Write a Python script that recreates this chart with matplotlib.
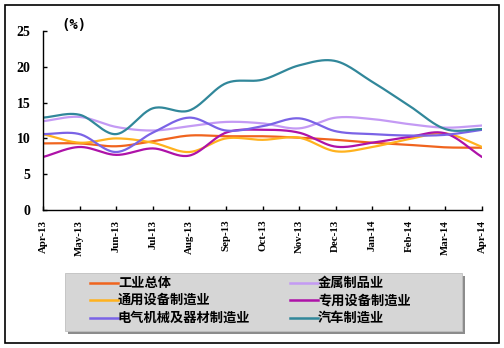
import numpy as np
import matplotlib
matplotlib.use("Agg")
import matplotlib.pyplot as plt
from matplotlib.patches import Rectangle
from matplotlib.lines import Line2D

plt.rcParams['font.family'] = ['Noto Sans CJK SC', 'DejaVu Sans']

months = ["Apr-13", "May-13", "Jun-13", "Jul-13", "Aug-13", "Sep-13", "Oct-13",
          "Nov-13", "Dec-13", "Jan-14", "Feb-14", "Mar-14", "Apr-14"]

industry_total = [9.3, 9.3, 8.9, 9.6, 10.4, 10.3, 10.3, 10.1, 9.8, 9.4, 9.1, 8.75, 8.7]
metal_products = [12.4, 13.0, 11.6, 11.1, 11.7, 12.3, 12.1, 11.4, 12.9, 12.7, 12.0, 11.5, 11.8]
general_equip = [10.6, 9.4, 10.0, 9.4, 8.1, 10.0, 9.8, 10.1, 8.2, 8.8, 9.9, 10.7, 8.8]
special_equip = [7.4, 8.8, 7.7, 8.6, 7.6, 10.8, 11.2, 10.8, 8.85, 9.4, 10.2, 10.7, 7.4]
electrical = [10.6, 10.6, 8.1, 10.8, 12.9, 11.1, 11.7, 12.8, 11.0, 10.6, 10.4, 10.5, 11.2]
automobile = [12.9, 13.3, 10.6, 14.2, 13.9, 17.7, 18.2, 20.2, 20.8, 17.9, 14.6, 11.3, 11.3]

series = [
    ("工业总体", industry_total, "#F0641E"),
    ("金属制品业", metal_products, "#C49AF4"),
    ("通用设备制造业", general_equip, "#FFB21E"),
    ("专用设备制造业", special_equip, "#AE12A8"),
    ("电气机械及器材制造业", electrical, "#7A63E6"),
    ("汽车制造业", automobile, "#31879A"),
]


def smooth(y, steps=24):
    """Catmull-Rom curve through the points (smoothed line style)."""
    y = np.asarray(y, float)
    x = np.arange(len(y), dtype=float)
    px = np.concatenate([[2 * x[0] - x[1]], x, [2 * x[-1] - x[-2]]])
    py = np.concatenate([[2 * y[0] - y[1]], y, [2 * y[-1] - y[-2]]])
    xs, ys = [], []
    t = np.linspace(0, 1, steps, endpoint=False)
    for i in range(1, len(px) - 2):
        p0, p1, p2, p3 = (np.array([px[j], py[j]]) for j in range(i - 1, i + 3))
        for tt in t:
            pt = 0.5 * ((2 * p1) + (-p0 + p2) * tt
                        + (2 * p0 - 5 * p1 + 4 * p2 - p3) * tt ** 2
                        + (-p0 + 3 * p1 - 3 * p2 + p3) * tt ** 3)
            xs.append(pt[0]); ys.append(pt[1])
    xs.append(x[-1]); ys.append(y[-1])
    return np.array(xs), np.array(ys)


fig = plt.figure(figsize=(5.04, 3.48), dpi=100)
fig.patch.set_facecolor("white")

# outer frame
fig.add_artist(Rectangle((5 / 504, 1 - 343 / 348), 494 / 504, 338 / 348,
                         transform=fig.transFigure, fill=False,
                         edgecolor="black", linewidth=1.2))

ax = fig.add_axes([43 / 504, 1 - 210 / 348, 439 / 504, 179 / 348])
for name, vals, col in series:
    sx, sy = smooth(vals)
    ax.plot(sx, sy, color=col, linewidth=1.6, solid_capstyle="round")

ax.set_xlim(0, len(months) - 1)
ax.set_ylim(0, 25)
ax.set_yticks([0, 5, 10, 15, 20, 25])
ax.set_xticks(range(len(months)))
ax.set_xticklabels(months, rotation=90, fontfamily="Liberation Serif",
                   fontweight="bold", fontsize=7.8)
ax.set_yticklabels([str(v) for v in [0, 5, 10, 15, 20, 25]],
                   fontfamily="Liberation Serif", fontweight="bold", fontsize=10)
for s in ["top", "right"]:
    ax.spines[s].set_visible(False)
for s in ["left", "bottom"]:
    ax.spines[s].set_linewidth(1.0)
ax.tick_params(axis="both", direction="in", length=3, width=1.0)
ax.tick_params(axis="x", pad=7)
ax.tick_params(axis="y", pad=9)

fig.text(61 / 504, 1 - 25 / 348, "(%)", fontsize=10, fontweight="bold",
         fontfamily="DejaVu Sans Mono", va="center", ha="left")

# legend box with drop shadow
lx0, ly0, lw, lh = 65, 273, 397, 58
fig.add_artist(Rectangle(((lx0 + 3) / 504, 1 - (ly0 + lh + 3) / 348), lw / 504, lh / 348,
                         transform=fig.transFigure, facecolor="#8c8c8c",
                         edgecolor="none"))
fig.add_artist(Rectangle((lx0 / 504, 1 - (ly0 + lh) / 348), lw / 504, lh / 348,
                         transform=fig.transFigure, facecolor="#d6d6d6",
                         edgecolor="#c0c0c0", linewidth=0.6))

col_x = [90, 290]
row_y = [283, 300, 318]
for i, (name, vals, col) in enumerate(series):
    cx = col_x[i % 2]
    cy = row_y[i // 2]
    fig.add_artist(Line2D([cx / 504, (cx + 28) / 504], [1 - cy / 348, 1 - cy / 348],
                          transform=fig.transFigure, color=col, linewidth=1.8))
    fig.text((cx + 28) / 504, 1 - cy / 348, name, fontsize=9.5, fontweight="bold",
             va="center", ha="left", color="black")

fig.savefig("out.png", dpi=100)
